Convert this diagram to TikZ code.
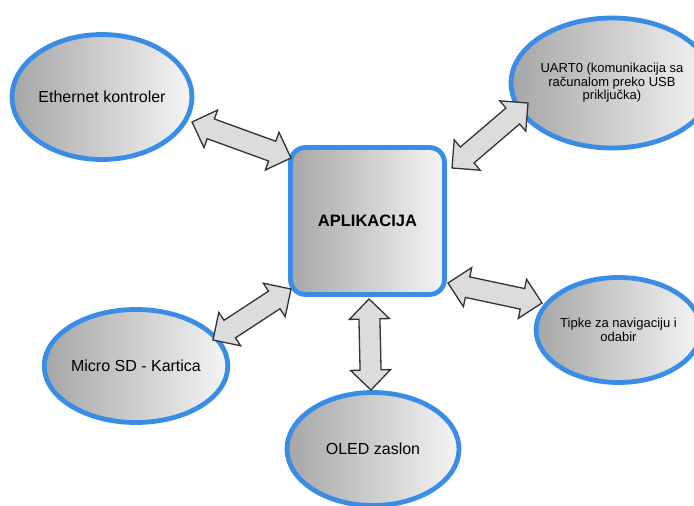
\documentclass[tikz,border=0pt]{standalone}
\usepackage{fontspec}
\setmainfont{Liberation Sans}
\usepackage{tikz}
\usetikzlibrary{calc,shapes.geometric}
\definecolor{cRim} {HTML}{3A8DE6}
\definecolor{cDark}{HTML}{A6A6A6}
\definecolor{cEdge}{HTML}{333333}
\definecolor{cLink}{HTML}{DCDCDC}
\tikzset{
  unit/.style  ={ellipse,draw=cRim,line width=4.8pt,left color=cDark,right color=white!96!black,
                 align=center,inner sep=0pt,text=black},
  big/.style   ={font=\fontsize{16}{18}\selectfont},
  small/.style ={font=\fontsize{13}{13.5}\selectfont},
  core/.style  ={rectangle,rounded corners=15pt,draw=cRim,line width=4.8pt,
                 left color=cDark,right color=white!96!black,
                 minimum width=154pt,minimum height=147pt,
                 font=\fontsize{16.5}{18}\selectfont\bfseries},
  link/.style  ={draw=cEdge,line width=1.3pt,line join=miter,fill=cLink},
}
% block arrow with a head at both ends, drawn between two named points
\newcommand{\biarrow}[2]{%
  \path let \p1=(#1), \p2=(#2) in \pgfextra{%
    \pgfmathsetmacro\arrAng{atan2(\y2-\y1,\x2-\x1)}\global\let\arrAng\arrAng
    \pgfmathsetmacro\arrLen{veclen(\x2-\x1,\y2-\y1)}\global\let\arrLen\arrLen};
  \draw[link,shift={(#1)},rotate=\arrAng,x=1pt,y=1pt]
    (0,0) -- (20,20) -- (20,10.5) -- (\arrLen-20,10.5) -- (\arrLen-20,20) -- (\arrLen,0)
    -- (\arrLen-20,-20) -- (\arrLen-20,-10.5) -- (20,-10.5) -- (20,-20) -- cycle;}

\begin{document}
\begin{tikzpicture}[x=1pt, y=-1pt]
\useasboundingbox[fill=white] (0,0) rectangle (694,506);

% ===== centre =============================================================
\node[core] (app) at (367.5,221) {APLIKACIJA};

% ===== peripherals ========================================================
\node[unit,big,minimum width=175pt,minimum height=125pt] (eth)  at (102,97)
  {Ethernet kontroler};
\node[unit,small,minimum width=175pt,minimum height=130pt] (uart) at (612,83)
  {UART0 (komunikacija sa\\ računalom preko USB\\ priključka)};
\node[unit,big,minimum width=157pt,minimum height=113pt] (sd)   at (136,366)
  {Micro SD - Kartica};
\node[unit,big,minimum width=172pt,minimum height=113pt] (oled) at (373,449)
  {OLED zaslon};
\node[unit,small,minimum width=142pt,minimum height=105pt] (keys) at (618.5,330)
  {Tipke za navigaciju i\\ odabir};

% ===== arrow tips =========================================================
\coordinate (ethTip)  at (192,122);  \coordinate (appEth)  at (291,158);
\coordinate (uartTip) at (528,103);  \coordinate (appUart) at (452,168);
\coordinate (sdTip)   at (213,340);  \coordinate (appSd)   at (291,289);
\coordinate (oledTip) at (371,390);  \coordinate (appOled) at (369,299);
\coordinate (keysTip) at (542,303);  \coordinate (appKeys) at (448,283);

\biarrow{ethTip}{appEth}
\biarrow{appUart}{uartTip}
\biarrow{sdTip}{appSd}
\biarrow{appOled}{oledTip}
\biarrow{appKeys}{keysTip}
\end{tikzpicture}
\end{document}
